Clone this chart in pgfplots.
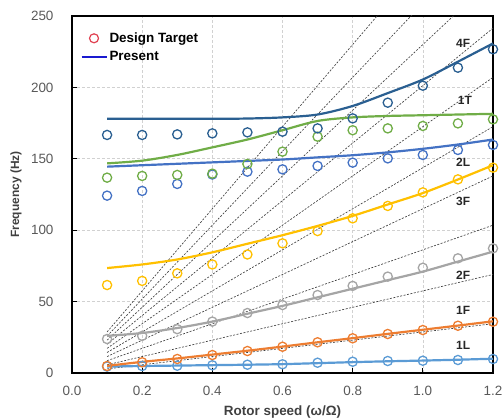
\documentclass[border=0pt]{standalone}
\usepackage{fontspec}
\setmainfont{Liberation Sans}
\usepackage{pgfplots}
\pgfplotsset{compat=1.18}
\usepackage{pgfplotstable}
\definecolor{cLL}{HTML}{5B9BD5}
\definecolor{cOF}{HTML}{ED7D31}
\definecolor{cGF}{HTML}{A5A5A5}
\definecolor{cYF}{HTML}{FFC000}
\definecolor{cBL}{HTML}{4472C4}
\definecolor{cGT}{HTML}{70AD47}
\definecolor{cDF}{HTML}{2A5F91}
\definecolor{tickgray}{HTML}{595959}
\definecolor{labgray}{HTML}{404040}
\definecolor{legred}{HTML}{E04050}
\definecolor{legblue}{HTML}{1A1AD0}
\pgfplotstableread{
x    tLL  pLL  tOF  pOF  tGF  pGF  tYF   pYF   tBL   pBL   tGT   pGT   tDF   pDF
0.1  4.5  4.5  4.9  5.0  23.8 26.0 61.6  73.5  124.2 144.5 136.8 146.8 166.7 178.0
0.2  4.9  4.9  7.5  7.8  26.0 28.0 64.5  76.0  127.5 145.5 138.0 148.7 166.7 178.0
0.3  5.1  5.2  9.8  10.2 30.7 31.5 69.8  79.5  132.4 146.5 138.7 152.7 167.1 178.0
0.4  5.4  5.5  12.6 12.9 36.0 36.0 76.0  84.5  139.0 147.5 139.6 158.0 167.8 178.0
0.5  5.8  5.8  15.4 15.6 42.0 41.5 83.0  90.5  141.0 148.5 146.4 163.5 168.5 178.2
0.6  6.1  6.2  18.4 18.5 47.6 47.0 90.8  96.5  142.6 149.5 155.0 170.0 169.0 179.0
0.7  7.2  6.9  21.5 21.5 54.6 53.0 99.4  103.0 145.0 151.0 165.5 176.5 171.3 181.0
0.8  7.9  7.6  24.3 24.4 61.0 59.0 108.3 110.0 147.3 152.5 170.0 179.0 178.3 187.0
0.9  8.4  8.2  27.3 27.4 67.5 65.0 117.0 118.0 150.3 154.5 171.3 180.0 189.3 196.0
1.0  8.6  8.7  30.1 30.3 73.7 71.0 126.5 126.0 152.7 157.0 173.0 180.5 201.2 205.5
1.1  9.1  9.3  33.1 33.2 80.3 78.0 135.6 135.5 156.2 160.0 174.8 181.0 213.8 218.0
1.2  9.8  10.0 35.9 36.2 87.3 85.0 143.8 145.5 159.7 163.5 177.6 181.5 226.7 230.8
}\modes
\begin{document}
\begin{tikzpicture}
\useasboundingbox (-72bp,-47bp) rectangle (430bp,373bp);
\begin{axis}[
  at={(0,0)}, anchor=south west,
  scale only axis, width=421bp, height=357bp,
  xmin=0, xmax=1.2, ymin=0, ymax=250,
  xtick={0,0.2,0.4,0.6,0.8,1.0,1.2}, ytick={0,50,100,150,200,250},
  xticklabel style={/pgf/number format/fixed, /pgf/number format/fixed zerofill, /pgf/number format/precision=1, yshift=-10bp},
  /pgf/number format/assume math mode=true,
  xtick pos=lower, ytick pos=left,
  tick align=inside, major tick length=5bp,
  grid=major, major grid style={dash pattern=on 3bp off 2bp, black!18, line width=0.6bp},
  axis line style={line width=1.5bp, black},
  tick style={black, line width=1bp},
  ticklabel style={font=\fontsize{13.5}{15}\selectfont, text=tickgray},
  yticklabel style={xshift=-15bp},
  xlabel={Rotor speed (ω/Ω)},
  xlabel style={font=\bfseries\fontsize{13.5}{15}\selectfont, text=labgray, at={(axis description cs:0.5,-0.109)}, anchor=center},
  ylabel={Frequency (Hz)},
  ylabel style={font=\bfseries\fontsize{12}{14}\selectfont, text=labgray, at={(axis description cs:-0.133,0.5)}, anchor=center},
  legend style={draw=none, fill=none, at={(axis description cs:0.015,0.965)}, anchor=north west, font=\bfseries\fontsize{13.5}{15}\selectfont, row sep=3.5bp, inner sep=2bp},
  legend cell align=left,
  exc/.style={black!75, line width=0.65bp, dash pattern=on 2bp off 1.5bp, forget plot},
  pres/.style={line width=2.2bp, forget plot},
  targ/.style={only marks, mark=o, mark size=4.6bp, line width=1.3bp, forget plot},
]
\addlegendimage{legend image code/.code={\draw[legred, line width=1.2bp] (12.5bp,0bp) circle (4.5bp);}}
\addlegendentry{Design Target}
\addlegendimage{legend image code/.code={\draw[legblue, line width=2bp] (0bp,0bp) -- (25bp,0bp);}}
\addlegendentry{Present}
% excitation lines
\addplot[exc] coordinates {(0.1,2.875) (1.2,34.5)};
\addplot[exc] coordinates {(0.1,5.75) (1.2,69)};
\addplot[exc] coordinates {(0.1,8.625) (1.2,103.5)};
\addplot[exc] coordinates {(0.1,11.5) (1.2,138)};
\addplot[exc] coordinates {(0.1,14.375) (1.2,172.5)};
\addplot[exc] coordinates {(0.1,17.25) (1.2,207)};
\addplot[exc] coordinates {(0.1,20.125) (1.2,241.5)};
\addplot[exc] coordinates {(0.1,23) (1.2,276)};
\addplot[exc] coordinates {(0.1,25.875) (1.2,310.5)};
\addplot[exc] coordinates {(0.1,28.75) (1.2,345)};
% present lines
\addplot[pres, cLL, smooth] table[x=x, y=pLL] {\modes};
\addplot[pres, cOF, smooth] table[x=x, y=pOF] {\modes};
\addplot[pres, cGF, smooth] table[x=x, y=pGF] {\modes};
\addplot[pres, cYF, smooth] table[x=x, y=pYF] {\modes};
\addplot[pres, cBL, smooth] table[x=x, y=pBL] {\modes};
\addplot[pres, cGT, smooth] table[x=x, y=pGT] {\modes};
\addplot[pres, cDF, smooth] table[x=x, y=pDF] {\modes};
% targets
\addplot[targ, cLL] table[x=x, y=tLL] {\modes};
\addplot[targ, cOF] table[x=x, y=tOF] {\modes};
\addplot[targ, cGF] table[x=x, y=tGF] {\modes};
\addplot[targ, cYF] table[x=x, y=tYF] {\modes};
\addplot[targ, cBL] table[x=x, y=tBL] {\modes};
\addplot[targ, cGT] table[x=x, y=tGT] {\modes};
\addplot[targ, cDF] table[x=x, y=tDF] {\modes};
% mode labels
\begin{scope}[every node/.style={font=\bfseries\fontsize{12}{14}\selectfont, text=black!85}]
\node at (axis cs:1.115,231) {4F};
\node at (axis cs:1.12,191) {1T};
\node at (axis cs:1.115,147.7) {2L};
\node at (axis cs:1.115,120.5) {3F};
\node at (axis cs:1.115,68.6) {2F};
\node at (axis cs:1.115,44) {1F};
\node at (axis cs:1.115,19) {1L};
\end{scope}
\end{axis}
\end{tikzpicture}
\end{document}
